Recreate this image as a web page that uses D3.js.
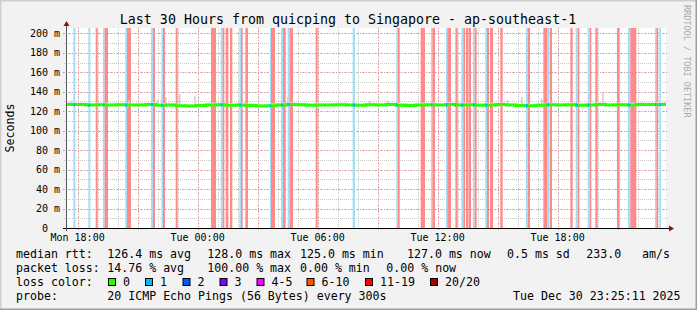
<!DOCTYPE html>
<html>
<head>
<meta charset="utf-8">
<script src="https://cdn.jsdelivr.net/npm/d3@7"></script>
<style>
  body { margin: 0; background: #f2f2f2; }
  text { font-family: "DejaVu Sans Mono", monospace; }
</style>
</head>
<body>
<div id="bieudo"></div>
<script>
// Khoảng thời gian của biểu đồ
let startTime = new Date(2025, 11, 29, 17, 25, 11),
    endTime = new Date(2025, 11, 30, 23, 25, 11)

// median rtt (ms), mỗi giá trị cho 30 phút tính từ startTime
let medianRtt = [127.0, 126.8, 126.5, 126.6, 126.4, 126.7, 126.3, 126.5, 126.9, 126.2,
                 126.4, 125.6, 125.3, 125.8, 126.4, 126.6, 126.0, 126.3, 125.9, 125.4,
                 125.7, 126.5, 126.8, 126.6, 126.2, 126.4, 126.5, 126.7, 126.3, 126.1,
                 126.6, 126.4, 126.8, 126.2, 125.8, 126.5, 126.7, 126.3, 126.9, 126.4,
                 126.6, 126.2, 126.5, 126.8, 126.3, 125.9, 125.5, 126.1, 126.6, 126.4,
                 126.7, 126.2, 126.5, 126.9, 126.3, 126.6, 126.4, 126.9, 126.8, 127.0]

// các đỉnh khói (phút sau startTime, ms)
let spikeMinutes = [12, 186, 273, 285, 297, 339, 384, 663, 909, 963, 1323, 1365, 1425, 1608]
let spikeValues  = [131, 131, 131.6, 135.7, 134.6, 137.7, 135.7, 134.6, 131, 131, 131.5, 134.6, 132.6, 138.8]

// các đoạn mất gói [từ, đến] phút sau startTime
let lowLoss = [[22, 28], [67, 73], [111, 116], [178, 183], [255, 261], [286, 291], [464, 470],
               [520, 525], [612, 615], [645, 651], [665, 671], [860, 867], [991, 995],
               [1095, 1099], [1140, 1144], [1167, 1170], [1186, 1192], [1221, 1226],
               [1258, 1263], [1380, 1386], [1443, 1449], [1529, 1535], [1565, 1571],
               [1686, 1693], [1767, 1771], [1780, 1785]]
let highLoss = [[89, 95], [116, 126], [183, 195], [261, 267], [291, 297], [329, 335], [435, 450],
                [470, 475], [479, 487], [492, 499], [525, 530], [538, 546], [615, 627],
                [651, 659], [671, 681], [749, 755], [995, 1001], [1064, 1077], [1099, 1107],
                [1144, 1155], [1170, 1175], [1192, 1197], [1200, 1207], [1208, 1215],
                [1226, 1232], [1263, 1269], [1272, 1281], [1303, 1310], [1386, 1392],
                [1432, 1443], [1451, 1458], [1513, 1520], [1535, 1540], [1571, 1576],
                [1588, 1595], [1653, 1661], [1693, 1701], [1701, 1711], [1771, 1776]]

let yTicks = [0, 20, 40, 60, 80, 100, 120, 140, 160, 180, 200]
let yTickLabels = ["0", "20 m", "40 m", "60 m", "80 m", "100 m", "120 m", "140 m", "160 m", "180 m", "200 m"]
let xTickLabels = ["Mon 18:00", "Tue 00:00", "Tue 06:00", "Tue 12:00", "Tue 18:00"]

let rttStats = ["126.4 ms avg", "128.0 ms max", "125.0 ms min", "127.0 ms now", "0.5 ms sd", "233.0", "am/s"]
let lossStats = ["14.76 % avg", "100.00 % max", "0.00 % min", "0.00 % now"]
let lossLabels = ["0", "1", "2", "3", "4-5", "6-10", "11-19", "20/20"]
let lossColors = ["#26ff00", "#00b8ff", "#0059ff", "#7e00ff", "#ff00ff", "#ff5500", "#ff0000", "#a00000"]

// Thông số
let width = 697, height = 310,
    pLeft = 66, pRight = 666, pTop = 28, pBottom = 228

let svg = d3.select("#bieudo").append("svg")
    .attr("width", width)
    .attr("height", height)

let x = d3.scaleTime().domain([startTime, endTime]).range([pLeft, pRight])
let y = d3.scaleLinear().domain([0, 205.5]).range([pBottom, pTop])
let atMin = m => new Date(startTime.getTime() + m * 60000)
let px = v => Math.round(v) + 0.5

// Nền và viền
svg.append("rect").attr("width", width).attr("height", height).attr("fill", "#f2f2f2")
svg.append("path").attr("d", `M0,${height} V0 H${width}`).attr("fill", "none")
   .attr("stroke", "#cfcfcf").attr("stroke-width", 3)
svg.append("path").attr("d", `M0,${height} H${width} V0`).attr("fill", "none")
   .attr("stroke", "#9e9e9e").attr("stroke-width", 3)
svg.append("rect").attr("x", pLeft).attr("y", pTop)
   .attr("width", pRight - pLeft).attr("height", pBottom - pTop).attr("fill", "#fff")

// Lưới
let grid = svg.append("g")
let minorX = d3.timeHour.every(1).range(startTime, endTime),
    majorX = d3.timeHour.every(3).range(startTime, endTime),
    labelX = d3.timeHour.every(6).range(startTime, endTime)
let minorY = d3.range(10, 205, 10)

grid.selectAll(".minx").data(minorX).enter().append("line")
    .attr("x1", d => px(x(d))).attr("x2", d => px(x(d)))
    .attr("y1", pTop).attr("y2", pBottom + 2)
    .attr("stroke", "#c8c8c8").attr("stroke-dasharray", "1,1")
grid.selectAll(".miny").data(minorY).enter().append("line")
    .attr("y1", d => px(y(d))).attr("y2", d => px(y(d)))
    .attr("x1", pLeft - 2).attr("x2", pRight + 2)
    .attr("stroke", "#c8c8c8").attr("stroke-dasharray", "1,1")
grid.selectAll(".majx").data(majorX).enter().append("line")
    .attr("x1", d => px(x(d))).attr("x2", d => px(x(d)))
    .attr("y1", pTop).attr("y2", pBottom + 3)
    .attr("stroke", "#f08a8a").attr("stroke-dasharray", "1,2")
grid.selectAll(".majy").data(yTicks.slice(1)).enter().append("line")
    .attr("y1", d => px(y(d))).attr("y2", d => px(y(d)))
    .attr("x1", pLeft - 3).attr("x2", pRight + 3)
    .attr("stroke", "#f08a8a").attr("stroke-dasharray", "1,2")

// Vạch mất gói
svg.selectAll(".low").data(lowLoss).enter().append("rect")
    .attr("x", d => x(atMin(d[0]))).attr("width", d => x(atMin(d[1])) - x(atMin(d[0])))
    .attr("y", pTop).attr("height", pBottom - pTop).attr("fill", "#a3def7")
svg.selectAll(".high").data(highLoss).enter().append("rect")
    .attr("x", d => x(atMin(d[0]))).attr("width", d => x(atMin(d[1])) - x(atMin(d[0])))
    .attr("y", pTop).attr("height", pBottom - pTop).attr("fill", "#ff8a8a")

// Khói
let medPoints = medianRtt.map((v, i) => ({t: atMin(i * 30), v: v}))
medPoints.push({t: endTime, v: medianRtt[medianRtt.length - 1]})
svg.append("path").datum(medPoints)
    .attr("d", d3.area().curve(d3.curveStepAfter)
        .x(d => x(d.t)).y0(d => y(d.v - 1.2)).y1(d => y(d.v + 2.2)))
    .attr("fill", "#e6e6e6")
svg.selectAll(".spike").data(spikeMinutes).enter().append("rect")
    .attr("x", d => x(atMin(d))).attr("width", d => x(atMin(d + 5)) - x(atMin(d)))
    .attr("y", (d, i) => y(spikeValues[i]))
    .attr("height", (d, i) => y(126) - y(spikeValues[i]))
    .attr("fill", "#d2d2d2")

// Đường median
let medLine = d3.line().curve(d3.curveStepAfter).x(d => x(d.t)).y(d => y(d.v))
svg.append("path").datum(medPoints).attr("d", medLine)
    .attr("fill", "none").attr("stroke", lossColors[0]).attr("stroke-width", 3)
let clip = svg.append("clipPath").attr("id", "lowclip")
clip.selectAll("rect").data(lowLoss).enter().append("rect")
    .attr("x", d => x(atMin(d[0]))).attr("width", d => x(atMin(d[1])) - x(atMin(d[0])))
    .attr("y", pTop).attr("height", pBottom - pTop)
svg.append("path").datum(medPoints).attr("d", medLine).attr("clip-path", "url(#lowclip)")
    .attr("fill", "none").attr("stroke", lossColors[1]).attr("stroke-width", 3)

// Trục
svg.append("line").attr("x1", pLeft - 3).attr("x2", pRight + 4)
    .attr("y1", pBottom + 0.5).attr("y2", pBottom + 0.5).attr("stroke", "#000")
svg.append("line").attr("x1", pLeft + 0.5).attr("x2", pLeft + 0.5)
    .attr("y1", pBottom + 3).attr("y2", pTop - 3).attr("stroke", "#555")
svg.append("path").attr("d", `M${pRight + 3},${pBottom - 2.5} L${pRight + 8},${pBottom + 0.5} L${pRight + 3},${pBottom + 3.5}Z`)
    .attr("fill", "#8b1010")
svg.append("path").attr("d", `M${pLeft - 2.5},${pTop - 2} L${pLeft + 0.5},${pTop - 7} L${pLeft + 3.5},${pTop - 2}Z`)
    .attr("fill", "#8b1010")

svg.selectAll(".ylab").data(yTicks).enter().append("text")
    .attr("x", d => d === 0 ? 48 : 60).attr("y", d => y(d)).attr("dy", "0.36em")
    .attr("text-anchor", "end").attr("font-size", "10px").attr("fill", "#000")
    .text((d, i) => yTickLabels[i])
svg.selectAll(".xlab").data(labelX).enter().append("text")
    .attr("x", d => x(d)).attr("y", 240.5)
    .attr("text-anchor", "middle").attr("font-size", "10px")
    .text((d, i) => xTickLabels[i])

// Tiêu đề
svg.append("text").attr("x", 348).attr("y", 24).attr("text-anchor", "middle")
    .attr("font-size", "13.3px").text("Last 30 Hours from quicping to Singapore - ap-southeast-1")
svg.append("text").attr("transform", "translate(14,128) rotate(-90)")
    .attr("text-anchor", "middle").attr("font-size", "11.6px").text("Seconds")
svg.append("text").attr("transform", "translate(684,5) rotate(90)")
    .attr("font-size", "8.5px").attr("fill", "#aaa").text("RRDTOOL / TOBI OETIKER")

// Chú thích
let legend = svg.append("g").attr("font-size", "11.6px")
let rowY = i => 257.5 + 14 * i
legend.append("text").attr("x", 16).attr("y", rowY(0)).text("median rtt:")
let rttX = [107.3, 207.3, 300, 407, 507, 586.3, 642]
legend.selectAll(".rtt").data(rttStats).enter().append("text")
    .attr("x", (d, i) => rttX[i]).attr("y", rowY(0)).text(d => d)

legend.append("text").attr("x", 16).attr("y", rowY(1)).text("packet loss:")
let lossX = [107.3, 207.3, 300, 386.3]
legend.selectAll(".loss").data(lossStats).enter().append("text")
    .attr("x", (d, i) => lossX[i]).attr("y", rowY(1)).text(d => d)

legend.append("text").attr("x", 16).attr("y", rowY(2)).text("loss color:")
let boxX = [108, 145, 182.5, 219.5, 256.5, 306.5, 365, 430]
legend.selectAll(".box").data(lossColors).enter().append("rect")
    .attr("x", (d, i) => boxX[i] + 0.5).attr("y", 278.5).attr("width", 7).attr("height", 7)
    .attr("fill", d => d).attr("stroke", "#000")
legend.selectAll(".boxlab").data(lossLabels).enter().append("text")
    .attr("x", (d, i) => boxX[i] + 15).attr("y", rowY(2)).text(d => d)

legend.append("text").attr("x", 16).attr("y", rowY(3)).text("probe:")
legend.append("text").attr("x", 107.3).attr("y", rowY(3)).text("20 ICMP Echo Pings (56 Bytes) every 300s")
legend.append("text").attr("x", 513).attr("y", rowY(3)).text("Tue Dec 30 23:25:11 2025")
</script>
</body>
</html>
